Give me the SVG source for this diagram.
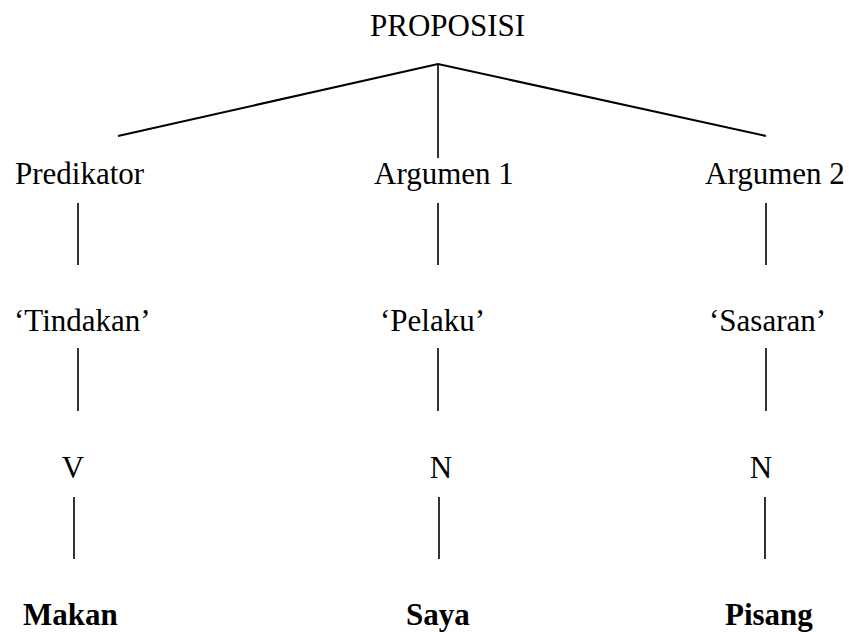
<svg xmlns="http://www.w3.org/2000/svg" width="849" height="632" viewBox="0 0 849 632">
  <style>
    .lbl { font-family: "Liberation Serif", "Times New Roman", serif; font-size: 31px; fill: #000; }
    .word { font-family: "Liberation Serif", "Times New Roman", serif; font-size: 31px; font-weight: bold; fill: #000; }
    .branch { stroke: #000; stroke-width: 2; fill: none; }
    .stem { stroke: #000; stroke-width: 1.6; fill: none; }
  </style>
  <rect width="849" height="632" fill="#fff"/>

  <!-- connectors -->
  <g id="connectors">
    <path class="branch" d="M118,136 L438,64 L766,136"/>
    <line class="stem" x1="438" y1="64" x2="438" y2="158"/>

    <line class="stem" x1="78" y1="203" x2="78" y2="265"/>
    <line class="stem" x1="78" y1="348" x2="78" y2="411"/>
    <line class="stem" x1="74" y1="497" x2="74" y2="559"/>

    <line class="stem" x1="438" y1="203" x2="438" y2="265"/>
    <line class="stem" x1="438" y1="348" x2="438" y2="411"/>
    <line class="stem" x1="439" y1="497" x2="439" y2="559"/>

    <line class="stem" x1="766" y1="203" x2="766" y2="265"/>
    <line class="stem" x1="766" y1="348" x2="766" y2="411"/>
    <line class="stem" x1="765" y1="497" x2="765" y2="559"/>
  </g>

  <!-- root -->
  <g id="proposisi"><text class="lbl" x="370" y="36">PROPOSISI</text></g>

  <!-- roles -->
  <g id="predikator"><text class="lbl" x="15" y="184">Predikator</text></g>
  <g id="argumen1"><text class="lbl" x="374" y="184">Argumen 1</text></g>
  <g id="argumen2"><text class="lbl" x="705" y="184">Argumen 2</text></g>

  <!-- semantic roles -->
  <g id="tindakan"><text class="lbl" x="14" y="331">‘Tindakan’</text></g>
  <g id="pelaku"><text class="lbl" x="380" y="331">‘Pelaku’</text></g>
  <g id="sasaran"><text class="lbl" x="709" y="331">‘Sasaran’</text></g>

  <!-- categories -->
  <g id="cat-v"><text class="lbl" x="73" y="478" text-anchor="middle">V</text></g>
  <g id="cat-n1"><text class="lbl" x="441" y="478" text-anchor="middle">N</text></g>
  <g id="cat-n2"><text class="lbl" x="761" y="478" text-anchor="middle">N</text></g>

  <!-- words -->
  <g id="makan"><text class="word" x="23" y="625">Makan</text></g>
  <g id="saya"><text class="word" x="406" y="625">Saya</text></g>
  <g id="pisang"><text class="word" x="725" y="625">Pisang</text></g>
</svg>
